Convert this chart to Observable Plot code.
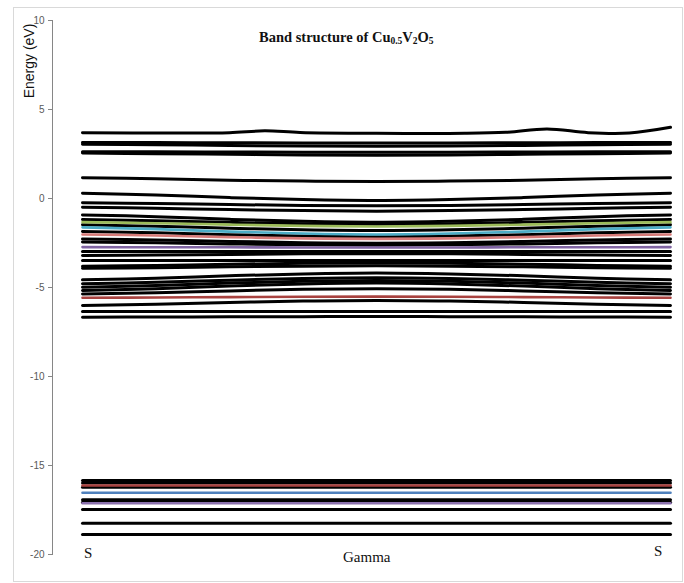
<!DOCTYPE html>
<html>
<head>
<meta charset="utf-8">
<script src="https://cdn.jsdelivr.net/npm/d3@7"></script>
<script src="https://cdn.jsdelivr.net/npm/@observablehq/plot@0.6"></script>
<style>
  body { margin: 0; background: #fff; }
  #wrap { position: relative; width: 684px; height: 583px; overflow: hidden; }
  #border { position: absolute; left: 13px; top: 7px; width: 668px; height: 573px; border: 1px solid #d9d9d9; }
  #chart { position: absolute; left: 0; top: 0; }
  .lbl { position: absolute; white-space: nowrap; line-height: 1; }
  #title { left: 259px; top: 29px; font: bold 14.5px "Liberation Serif", serif; color: #111; }
  #title sub { font-size: 9.5px; vertical-align: -2px; }
  #ylab { left: 29px; top: 61px; font: 14px "Liberation Sans", sans-serif; color: #111; transform: translate(-50%, -50%) rotate(-90deg); }
  .klab { font: 15px "Liberation Serif", serif; color: #111; }
</style>
</head>
<body>
<div id="wrap">
  <div id="border"></div>
  <div id="chart"></div>
  <div class="lbl" id="title">Band structure of Cu<sub>0.5</sub>V<sub>2</sub>O<sub>5</sub></div>
  <div class="lbl" id="ylab">Energy (eV)</div>
  <div class="lbl klab" style="left:84px; top:545px;">S</div>
  <div class="lbl klab" style="left:343px; top:549px;">Gamma</div>
  <div class="lbl klab" style="left:654px; top:543px;">S</div>
</div>
<script>
// k-path positions (S -> Gamma -> S), shared by the valence bands
const kPoints = [0, 0.125, 0.25, 0.375, 0.5, 0.625, 0.75, 0.875, 1];

// topmost conduction band (own sampling, it has small bumps)
const topBandK = [0, 0.15, 0.25, 0.31, 0.37, 0.5, 0.65, 0.72, 0.79, 0.86, 0.93, 1];
const topBandE = [3.69, 3.68, 3.70, 3.80, 3.71, 3.66, 3.66, 3.72, 3.91, 3.70, 3.68, 4.00];

// upper bands, energies (eV) at kPoints
const upperBands = [
  [3.15, 3.14, 3.13, 3.12, 3.12, 3.12, 3.13, 3.14, 3.15],
  [3.05, 3.02, 2.98, 2.95, 2.94, 2.95, 2.98, 3.02, 3.05],
  [2.62, 2.62, 2.61, 2.60, 2.60, 2.60, 2.61, 2.62, 2.62],
  [2.55, 2.52, 2.48, 2.44, 2.43, 2.44, 2.48, 2.52, 2.55],
  [1.16, 1.11, 1.03, 0.98, 0.95, 0.98, 1.03, 1.11, 1.16],
  [0.30, 0.20, 0.05, -0.06, -0.11, -0.06, 0.05, 0.20, 0.30],
  [-0.24, -0.28, -0.34, -0.39, -0.41, -0.39, -0.34, -0.28, -0.24],
  [-0.49, -0.55, -0.62, -0.68, -0.71, -0.68, -0.62, -0.55, -0.49],
  [-0.92, -1.02, -1.17, -1.28, -1.33, -1.28, -1.17, -1.02, -0.92],
  [-1.18, -1.25, -1.34, -1.42, -1.45, -1.42, -1.34, -1.25, -1.18],
  [-1.33, -1.39, -1.47, -1.54, -1.57, -1.54, -1.47, -1.39, -1.33],
  [-1.48, -1.56, -1.67, -1.76, -1.80, -1.76, -1.67, -1.56, -1.48],
  [-1.62, -1.72, -1.86, -1.97, -2.02, -1.97, -1.86, -1.72, -1.62],
  [-1.85, -1.93, -2.03, -2.11, -2.15, -2.11, -2.03, -1.93, -1.85],
  [-2.02, -2.08, -2.17, -2.24, -2.27, -2.24, -2.17, -2.08, -2.02],
  [-2.27, -2.33, -2.41, -2.48, -2.51, -2.48, -2.41, -2.33, -2.27],
  [-2.45, -2.49, -2.55, -2.60, -2.62, -2.60, -2.55, -2.49, -2.45],
  [-2.73, -2.74, -2.74, -2.75, -2.75, -2.75, -2.74, -2.74, -2.73],
  [-2.98, -2.98, -2.98, -2.98, -2.98, -2.98, -2.98, -2.98, -2.98],
  [-3.20, -3.18, -3.14, -3.11, -3.10, -3.11, -3.14, -3.18, -3.20],
  [-3.48, -3.48, -3.48, -3.48, -3.48, -3.48, -3.48, -3.48, -3.48],
  [-3.80, -3.76, -3.69, -3.64, -3.62, -3.64, -3.69, -3.76, -3.80],
  [-3.92, -3.89, -3.84, -3.80, -3.78, -3.80, -3.84, -3.89, -3.92],
  [-4.57, -4.48, -4.34, -4.24, -4.19, -4.24, -4.34, -4.48, -4.57],
  [-4.79, -4.71, -4.59, -4.49, -4.45, -4.49, -4.59, -4.71, -4.79],
  [-4.98, -4.89, -4.75, -4.65, -4.60, -4.65, -4.75, -4.89, -4.98],
  [-5.17, -5.07, -4.92, -4.80, -4.75, -4.80, -4.92, -5.07, -5.17],
  [-5.36, -5.29, -5.19, -5.10, -5.07, -5.10, -5.19, -5.29, -5.36],
  [-5.58, -5.56, -5.54, -5.52, -5.51, -5.52, -5.54, -5.56, -5.58],
  [-6.01, -5.94, -5.84, -5.76, -5.73, -5.76, -5.84, -5.94, -6.01],
  [-6.35, -6.35, -6.35, -6.35, -6.35, -6.35, -6.35, -6.35, -6.35],
  [-6.67, -6.66, -6.65, -6.64, -6.63, -6.64, -6.65, -6.66, -6.67]
];

// deep (flat) bands, eV
const lowerBands = [-15.84, -15.99, -16.12, -16.22, -16.53, -16.93, -17.06, -17.12, -17.47, -18.24, -18.88];

// y-axis ticks
const yTicks = [-20, -15, -10, -5, 0, 5, 10];

// styles: which bands are coloured
const upperColors = {10: "#9bbb59", 12: "#4bacc6", 14: "#d77a78", 17: "#8064a2", 28: "#a8423f"};
const lowerColors = {2: "#a8423f", 4: "#4f81bd", 7: "#8a70ac"};

const rows = [];
topBandK.forEach((k, i) => rows.push({band: "top", k, E: topBandE[i], color: "#000"}));
upperBands.forEach((b, j) => b.forEach((E, i) => rows.push({band: "u" + j, k: kPoints[i], E, color: upperColors[j] || "#000"})));
lowerBands.forEach((E, j) => [0, 1].forEach(k => rows.push({band: "l" + j, k, E, color: lowerColors[j] || "#000"})));

const blackRows = rows.filter(d => d.color === "#000");
const colorRows = rows.filter(d => d.color !== "#000");

const chart = Plot.plot({
  width: 684,
  height: 583,
  marginLeft: 52,
  marginTop: 20,
  marginBottom: 29,
  marginRight: 14,
  x: {domain: [0, 1], range: [82, 670], axis: null},
  y: {domain: [-20, 10], range: [554, 20]},
  style: {fontFamily: "Liberation Sans, sans-serif", background: "transparent", overflow: "visible"},
  marks: [
    Plot.frame({anchor: "left", stroke: "#868686"}),
    Plot.axisY({ticks: yTicks, tickSize: 4, tickPadding: 4, stroke: "#868686", fill: "#595959", fontSize: 10, tickFormat: d => String(d), label: null}),
    Plot.line(blackRows, {x: "k", y: "E", z: "band", stroke: "#000", strokeWidth: 3, curve: "catmull-rom"}),
    Plot.line(colorRows, {x: "k", y: "E", z: "band", stroke: "color", strokeWidth: 2.6, curve: "catmull-rom"})
  ]
});
document.getElementById("chart").appendChild(chart);
</script>
</body>
</html>
